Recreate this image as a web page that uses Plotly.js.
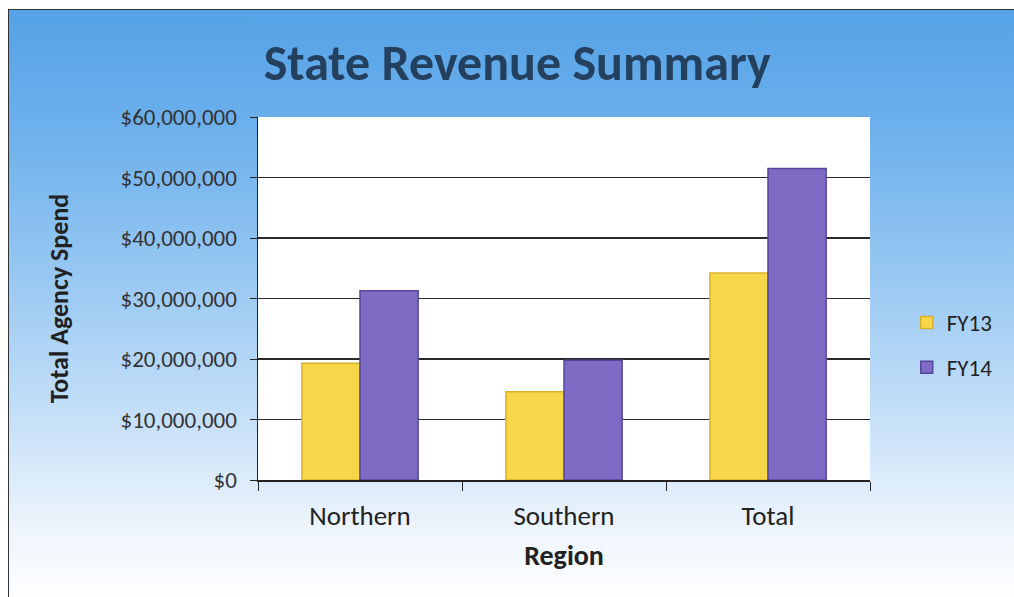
<!DOCTYPE html>
<html>
<head>
<meta charset="utf-8">
<script src="https://cdn.plot.ly/plotly-3.0.1.min.js"></script>
<style>
  html, body { margin:0; padding:0; width:1014px; height:597px; overflow:hidden; background:#ffffff; }
  #bg { position:absolute; left:8px; top:9px; width:1010px; height:592px;
        border-left:1.5px solid #333; border-top:1.5px solid #333;
        background: linear-gradient(to bottom, #55a2e6 0%, #6cb0ec 20%, #98c8f2 45%, #c8e1f8 70%, #eef5fc 88%, #ffffff 100%); }
  #chart { position:absolute; left:0; top:0; width:1014px; height:597px; }
</style>
</head>
<body>
<div id="bg"></div>
<div id="chart"></div>
<script>
const regions = ["Northern", "Southern", "Total"];
const fy13 = [19300000, 14600000, 34200000];
const fy14 = [31300000, 19800000, 51500000];
const seriesNames = ["FY13", "FY14"];
const yTicks = [0, 10000000, 20000000, 30000000, 40000000, 50000000, 60000000];

const font = "Carlito, 'Open Sans', 'Noto Sans', sans-serif";

const traces = [
  { type:"bar", name:seriesNames[0], x:regions, y:fy13, legendgroup:"a",
    marker:{ color:"#f7d64a", line:{ color:"#d9b22c", width:1.5 } } },
  { type:"bar", name:seriesNames[1], x:regions, y:fy14, legendgroup:"b",
    marker:{ color:"#7e6cc4", line:{ color:"#56459c", width:1.5 } } }
];

const layout = {
  width:1014, height:597,
  paper_bgcolor:"rgba(0,0,0,0)", plot_bgcolor:"#ffffff",
  margin:{ l:258, r:144, t:117, b:117 },
  barmode:"group", bargap:0.43, bargroupgap:0,
  showlegend:true,
  title:{ text:"<b>State Revenue Summary</b>", x:0.51, xanchor:"center", y:0.895, yanchor:"middle",
          font:{ family:font, size:50, color:"#24405f" } },
  xaxis:{ type:"category", showgrid:false, showline:true, linecolor:"#222", linewidth:1.5,
          ticks:"outside", tickson:"boundaries", ticklen:9, tickcolor:"#222", ticklabelstandoff:11,
          tickfont:{ family:font, size:27, color:"#222" },
          title:{ text:"<b>Region</b>", font:{ family:font, size:28, color:"#222" }, standoff:14 } },
  yaxis:{ range:[0, 60000000], tickvals:yTicks, tickformat:"$,.0f",
          showgrid:true, gridcolor:"#2a2a2a", gridwidth:1.6, zeroline:false,
          showline:true, linecolor:"#222", linewidth:1.5, ticks:"outside", ticklen:7, tickcolor:"#222",
          ticklabelstandoff:8,
          tickfont:{ family:font, size:23, color:"#333" },
          title:{ text:"<b>Total Agency Spend</b>", font:{ family:font, size:26, color:"#222" }, standoff:44 } },
  legend:{ x:1.06, xanchor:"left", y:0.372, yanchor:"middle", bgcolor:"rgba(0,0,0,0)",
           tracegroupgap:12, font:{ family:font, size:23, color:"#222" } }
};

Plotly.newPlot("chart", traces, layout, { displayModeBar:false, staticPlot:true });
</script>
</body>
</html>
